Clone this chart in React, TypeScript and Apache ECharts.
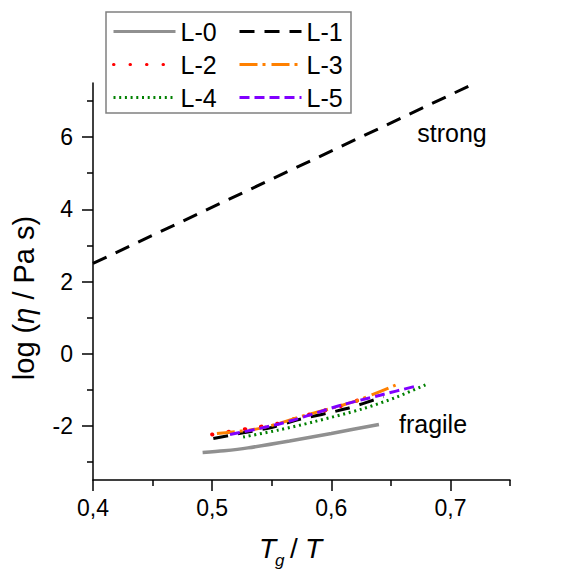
import React, { useEffect, useRef } from "react";
import * as echarts from "echarts";

// ---- data ----
const L0: [number, number][] = [[0.492, -2.74], [0.51, -2.69], [0.53, -2.61], [0.565, -2.42], [0.6, -2.21], [0.64, -1.96]];
const L1_strong: [number, number][] = [[0.4, 2.5], [0.721, 7.5]];
const L1_fragile: [number, number][] = [[0.501, -2.35], [0.525, -2.2], [0.549, -2.05], [0.571, -1.84], [0.613, -1.52], [0.644, -1.19]];
const L2: [number, number][] = [[0.5, -2.24], [0.53, -2.08], [0.555, -1.94], [0.58, -1.7], [0.608, -1.45], [0.632, -1.18]];
const L3: [number, number][] = [[0.504, -2.21], [0.54, -2.07], [0.58, -1.69], [0.619, -1.33], [0.654, -0.87]];
const L4: [number, number][] = [[0.526, -2.31], [0.555, -2.12], [0.585, -1.89], [0.627, -1.52], [0.655, -1.2], [0.682, -0.82]];
const L5: [number, number][] = [[0.515, -2.24], [0.54, -2.07], [0.566, -1.86], [0.608, -1.43], [0.641, -1.15], [0.672, -0.89]];

const xMajor = [0.4, 0.5, 0.6, 0.7];
const xMinor = [0.45, 0.55, 0.65, 0.75];
const yMajor = [-2, 0, 2, 4, 6];
const yMinor = [-3, -1, 1, 3, 5, 7];

const FONT = "'Liberation Sans', Arial, sans-serif";

export default function App() {
  const ref = useRef<HTMLDivElement>(null);
  useEffect(() => {
    document.body.style.margin = "0";
    const chart = echarts.init(ref.current!, null, { renderer: "svg" });
    const lineSeries = (name: string, data: [number, number][], color: string, width: number, type: any, cap = "butt") => ({
      type: "line",
      name,
      data,
      symbol: "none",
      smooth: 0.3,
      xAxisIndex: 0,
      yAxisIndex: 0,
      lineStyle: { color, width, type, cap },
      itemStyle: { color },
    });
    const commonX = { type: "value", min: 0.4, max: 0.75, position: "bottom", splitLine: { show: false }, gridIndex: 0 };
    const commonY = { type: "value", min: -3.5, max: 7.5, position: "left", splitLine: { show: false }, gridIndex: 0 };
    const legendCommon = {
      orient: "vertical",
      top: 19,
      padding: 0,
      itemGap: 8,
      itemWidth: 62,
      itemHeight: 14,
      selectedMode: false,
      itemStyle: { opacity: 0, borderWidth: 0 },
      lineStyle: { width: 3 },
      textStyle: { fontSize: 25, lineHeight: 24, color: "#000", fontFamily: FONT },
    };
    const option: any = {
      animation: false,
      backgroundColor: "#fff",
      textStyle: { fontFamily: FONT },
      grid: { left: 93, top: 83, width: 417, height: 397 },
      xAxis: [
        {
          ...commonX,
          axisLine: { show: true, onZero: false, lineStyle: { color: "#000", width: 1.5 } },
          axisTick: { show: true, customValues: xMajor, length: 11, inside: false, lineStyle: { color: "#000", width: 1.5 } },
          axisLabel: {
            show: true,
            customValues: xMajor,
            margin: 16,
            fontSize: 23,
            color: "#000",
            fontFamily: FONT,
            formatter: (v: number) => v.toFixed(1).replace(".", ","),
          },
        },
        {
          ...commonX,
          axisLine: { show: false, onZero: false },
          axisTick: { show: true, customValues: xMinor, length: 6, inside: false, lineStyle: { color: "#000", width: 1.5 } },
          axisLabel: { show: false },
        },
      ],
      yAxis: [
        {
          ...commonY,
          axisLine: { show: true, onZero: false, lineStyle: { color: "#000", width: 1.5 } },
          axisTick: { show: true, customValues: yMajor, length: 11, inside: false, lineStyle: { color: "#000", width: 1.5 } },
          axisLabel: {
            show: true,
            customValues: yMajor,
            margin: 20,
            fontSize: 23,
            color: "#000",
            fontFamily: FONT,
            formatter: (v: number) => String(v),
          },
        },
        {
          ...commonY,
          axisLine: { show: false, onZero: false },
          axisTick: { show: true, customValues: yMinor, length: 6, inside: false, lineStyle: { color: "#000", width: 1.5 } },
          axisLabel: { show: false },
        },
      ],
      legend: [
        { ...legendCommon, left: 112, data: ["L-0", "L-2", "L-4"] },
        { ...legendCommon, left: 238, data: ["L-1", "L-3", "L-5"] },
      ],
      graphic: [
        { type: "rect", shape: { x: 106, y: 12, width: 245, height: 101 }, style: { fill: "none", stroke: "#808080", lineWidth: 1.5 }, z: 100 },
        { type: "text", x: 452, y: 133, style: { text: "strong", fontSize: 25, fill: "#000", fontFamily: FONT, align: "center", verticalAlign: "middle" } },
        { type: "text", x: 433, y: 424, style: { text: "fragile", fontSize: 25, fill: "#000", fontFamily: FONT, align: "center", verticalAlign: "middle" } },
        { type: "text", x: 259, y: 548, style: { text: "T", fontSize: 28, fontStyle: "italic", fill: "#000", fontFamily: FONT, align: "left", verticalAlign: "middle" } },
        { type: "text", x: 275, y: 560, style: { text: "g", fontSize: 17, fontStyle: "italic", fill: "#000", fontFamily: FONT, align: "left", verticalAlign: "middle" } },
        { type: "text", x: 290, y: 548, style: { text: "/", fontSize: 28, fill: "#000", fontFamily: FONT, align: "left", verticalAlign: "middle" } },
        { type: "text", x: 305, y: 548, style: { text: "T", fontSize: 28, fontStyle: "italic", fill: "#000", fontFamily: FONT, align: "left", verticalAlign: "middle" } },
        {
          type: "text",
          x: 24,
          y: 298,
          rotation: Math.PI / 2,
          style: {
            text: "{n|log (}{i|η}{n| / Pa s)}",
            align: "center",
            verticalAlign: "middle",
            rich: {
              n: { fontSize: 29, fill: "#000", color: "#000", fontFamily: FONT },
              i: { fontSize: 29, fill: "#000", color: "#000", fontFamily: FONT, fontStyle: "italic" },
            },
          },
        },
      ],
      series: [
        lineSeries("L-0", L0, "#909090", 3.5, "solid"),
        { ...lineSeries("L-1", L1_strong, "#000000", 3, [15, 10]), smooth: false },
        lineSeries("L-1", L1_fragile, "#000000", 3, [15, 10]),
        lineSeries("L-2", L2, "#ff0000", 4, [0.5, 16], "round"),
        lineSeries("L-3", L3, "#ff8000", 3, [18, 5, 3, 6]),
        lineSeries("L-4", L4, "#008000", 3, [2, 3.7]),
        lineSeries("L-5", L5, "#8000ff", 3, [10, 5]),
      ],
    };
    chart.setOption(option);
    return () => chart.dispose();
  }, []);
  return <div ref={ref} style={{ width: 588, height: 569 }} />;
}
